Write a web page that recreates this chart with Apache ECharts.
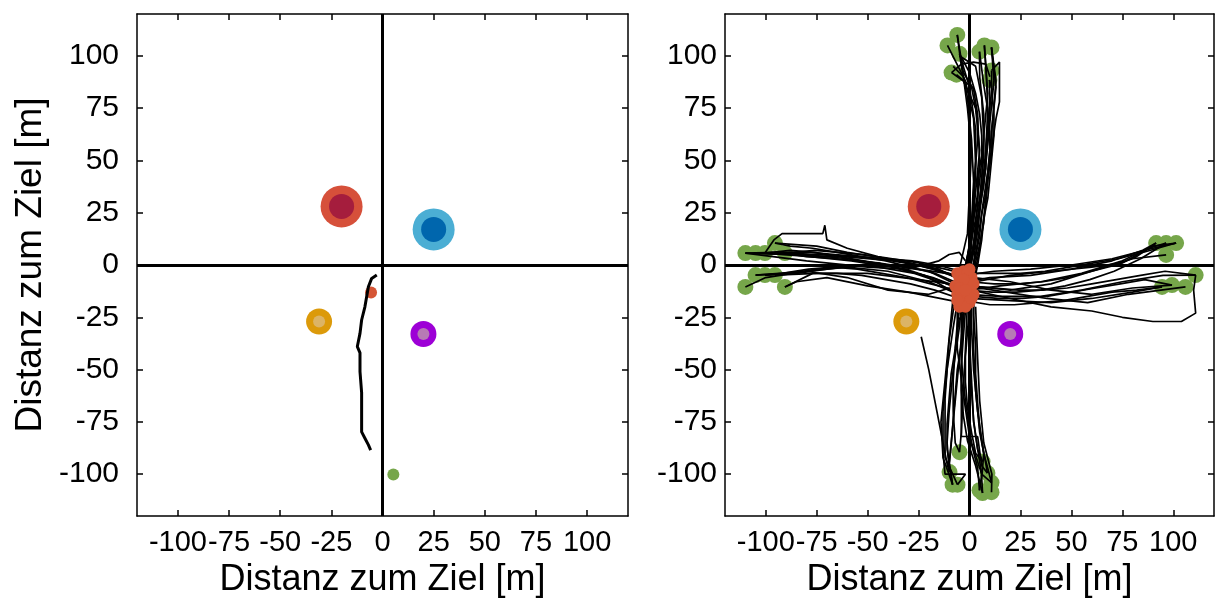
<!DOCTYPE html>
<html><head><meta charset="utf-8">
<script src="https://cdn.jsdelivr.net/npm/echarts@6/dist/echarts.min.js"></script>
<style>html,body{margin:0;padding:0;background:#fff}#c{width:1215px;height:600px}</style>
</head><body><div id="c"></div>
<script>
// ---- data ----
const tickValues = [-100, -75, -50, -25, 0, 25, 50, 75, 100];
const axisTitle = 'Distanz zum Ziel [m]';
const axisRange = [-120, 120];

const targetRed = [[-20, 28]];
const targetBlue = [[25, 17]];
const targetOrange = [[-31, -27]];
const targetPurple = [[20, -33]];

// left panel (single trial)
const leftStart = [[-5.6, -13.2]];
const leftEnd = [[5.3, -100.2]];
const leftTrack = [[-2.8, -4.8], [-5.3, -6.4], [-6.9, -10.4], [-8.6, -20], [-10.2, -26.3], [-11, -32.7],
  [-12.3, -39], [-11, -42], [-11, -51], [-10.2, -61], [-10.2, -79.8], [-8.6, -82.8], [-6.9, -86], [-5.8, -88.5]];

// right panel (all trials)
const startPoints = [[-3, -10], [-5, -6], [-1, -8], [-6, -14], [-2, -15], [-4, -18], [0, -12], [1, -6],
  [-7, -10], [-3, -3], [2, -14], [-5, -20], [0, -18], [-6, -4], [2, -9], [-2, -20],
  [-4, -13], [-1, -4], [-6, -17], [1, -16], [-3, -7], [-5, -11], [0, -2], [-2, -12]];
const endPoints = [
  [-6, 110], [-10.8, 105], [-4.9, 101], [-8.8, 92], [-6.4, 91], [7.3, 105], [10.8, 104], [4.9, 102], [10.8, 93], [9.8, 88.5],
  [-4.9, -89.5], [-9.8, -99], [-8.3, -105], [-5.9, -105], [6.4, -94], [8.8, -99.5], [10.8, -104], [6.4, -109], [10.8, -108.6], [4.9, -107.7],
  [-110, 5.7], [-105, 5.7], [-100.4, 5.7], [-95.5, 10.5], [-90.6, 5.7], [-105, -4.8], [-100.4, -4.8], [-95.5, -4.8], [-110, -10.5], [-90.6, -10.5],
  [91.6, 10.5], [96.5, 10.5], [101.4, 10.5], [96.5, 4.8], [111, -4.8], [99.4, -9.6], [106, -10.5], [94.5, -10.5]];

const upPaths = [
  [[-3, -12], [-1, 0], [1, 20], [2, 40], [1, 60], [-1, 80], [-4, 95], [-6, 110]],
  [[-2, -8], [0, 10], [2, 30], [3, 50], [2, 70], [-2, 88], [-10.8, 105]],
  [[-4, -15], [0, 5], [2, 25], [3, 45], [3, 65], [0, 85], [-4.9, 101]],
  [[-3, -6], [1, 15], [3, 35], [5, 55], [3, 75], [-3, 88], [-8.8, 92]],
  [[-1, -10], [2, 10], [4, 30], [5, 50], [4, 70], [1, 85], [-6.4, 91]],
  [[0, -5], [3, 15], [6, 35], [8, 55], [9, 75], [8, 95], [7.3, 105]],
  [[-2, -14], [3, 5], [6, 25], [9, 45], [11, 65], [13, 85], [10.8, 104]],
  [[-4, -9], [1, 12], [5, 32], [7, 52], [7, 72], [5, 90], [4.9, 102]],
  [[1, -12], [5, 8], [8, 30], [10, 50], [13, 70], [14.7, 78], [14.7, 97], [10.8, 93]],
  [[-1, -3], [4, 18], [7, 40], [9, 60], [10, 75], [9.8, 88.5]],
  [[0, -16], [2, 0], [4, 20], [6, 40], [7, 60], [6, 80], [3, 95], [-5, 100]],
  [[-5, -2], [-1, 15], [0, 35], [1, 55], [-1, 75], [-3, 90], [-8, 95]],
  [[-2, -11], [1, 2], [3, 18], [5, 28], [7, 38], [8, 48], [9, 58], [10, 68], [11, 78], [12, 88], [10.8, 104]],
  [[-1, -6], [2, 6], [4, 16], [5, 26], [6, 36], [8, 46], [8, 56], [9, 66], [10, 76], [11, 84], [9.8, 88.5]],
  [[0, -9], [3, 4], [5, 14], [6, 24], [8, 34], [9, 44], [10, 54], [10, 64], [9, 74], [7, 86], [4.9, 102]],
  [[-3, -4], [0, 8], [2, 22], [4, 32], [4, 42], [6, 52], [6, 62], [5, 72], [3, 82], [0, 92], [-4.9, 101]],
  [[1, -14], [4, 0], [6, 12], [7, 22], [9, 32], [10, 42], [11, 52], [12, 62], [12, 72], [11, 82], [10.8, 93]],
  [[-2, -17], [0, -2], [1, 10], [2, 22], [2, 35], [3, 48], [4, 60], [4, 72], [2, 84], [-3, 92], [-6, 110]],
  [[-4, -11], [-1, 4], [1, 16], [3, 28], [5, 40], [6, 50], [7, 62], [8, 72], [9, 82], [8, 95], [7.3, 105]],
  [[2, -3], [5, 10], [7, 20], [8, 32], [9, 42], [11, 54], [11, 66], [12, 76], [13, 88], [10.8, 104]],
  [[-8.8, 92], [-4, 96], [2, 97], [8, 96], [10, 90]]
];
const downPaths = [
  [[-3, -10], [-5, -30], [-8, -50], [-10, -70], [-11, -85], [-9.8, -99]],
  [[-2, -15], [-4, -35], [-6, -55], [-8, -75], [-10, -95], [-8.3, -105]],
  [[-5, -12], [-8, -30], [-11, -50], [-13, -70], [-13, -90], [-12, -100], [-2, -100], [-5.9, -105]],
  [[-1, -18], [-2, -40], [-3, -60], [-4, -80], [-4.9, -89.5]],
  [[0, -12], [0, -35], [1, -55], [2, -75], [4, -88], [6.4, -94]],
  [[2, -15], [2, -40], [3, -60], [5, -80], [8, -95], [8.8, -99.5]],
  [[-4, -20], [-4, -45], [-2, -65], [1, -85], [6, -100], [10.8, -104]],
  [[1, -8], [1, -30], [2, -50], [4, -70], [7, -90], [6, -102], [6.4, -109]],
  [[-6, -18], [-6, -40], [-3, -62], [0, -82], [4, -97], [4.9, -107.7]],
  [[3, -20], [4, -45], [5, -65], [7, -85], [11, -100], [10.8, -108.6]],
  [[-23.7, -34.3], [-20, -50], [-16, -70], [-13, -85], [-11, -95], [-9.8, -99]],
  [[-8, -15], [-10, -35], [-12, -55], [-14, -75], [-13, -92], [-8.3, -105]],
  [[-3, -15], [-4, -50], [-4, -82], [4, -82], [6, -96], [8.8, -99.5]],
  [[-1, -12], [-3, -25], [-4, -38], [-6, -50], [-7, -62], [-8, -74], [-9, -86], [-10, -96], [-9.8, -99]],
  [[-4, -16], [-6, -28], [-7, -40], [-9, -52], [-10, -64], [-11, -76], [-11, -88], [-8.3, -105]],
  [[0, -20], [-1, -32], [-2, -44], [-2, -56], [-1, -68], [1, -80], [3, -90], [6.4, -94]],
  [[-2, -22], [-3, -34], [-4, -48], [-4, -60], [-3, -72], [-1, -84], [3, -96], [6.4, -109]],
  [[2, -10], [2, -24], [3, -38], [3, -52], [4, -66], [5, -78], [7, -90], [10.8, -104]],
  [[-6, -8], [-8, -22], [-10, -36], [-11, -50], [-12, -64], [-12, -78], [-12, -92], [-5.9, -105]],
  [[-5, -25], [-7, -40], [-8, -55], [-8, -70], [-7, -85], [-4.9, -89.5]],
  [[1, -18], [0, -32], [0, -46], [1, -60], [2, -74], [4, -88], [6, -100], [4.9, -107.7]]
];
const leftPaths = [
  [[-3, -8], [-15, -2], [-35, 2], [-55, 4], [-75, 5], [-95, 6], [-110, 5.7]],
  [[-5, -10], [-20, -3], [-40, 0], [-60, 3], [-80, 5], [-105, 5.7]],
  [[-2, -12], [-18, -6], [-38, -1], [-58, 2], [-78, 4], [-100.4, 5.7]],
  [[-4, -6], [-20, -1], [-40, 3], [-60, 6], [-75, 9], [-95.5, 10.5]],
  [[-6, -14], [-22, -5], [-45, 1], [-65, 3], [-80, 4], [-90.6, 5.7]],
  [[-3, -15], [-20, -8], [-40, -3], [-60, -1], [-80, -3], [-105, -4.8]],
  [[-5, -5], [-25, -2], [-45, 1], [-70, -2], [-85, -4], [-100.4, -4.8]],
  [[-2, -10], [-25, -7], [-50, -4], [-75, -4], [-95.5, -4.8]],
  [[-6, -10], [-20, -14], [-40, -12], [-60, -6], [-80, -3], [-100, -6], [-110, -10.5]],
  [[-4, -18], [-30, -13], [-50, -10], [-70, -6], [-85, -8], [-90.6, -10.5]],
  [[-3, -4], [-25, 1], [-45, 4], [-60, 8], [-70, 12], [-71, 19], [-72, 15], [-92, 15], [-96, 12], [-100.4, 5.7]],
  [[-110, 5.7], [-80, 2], [-50, -1], [-30, -2], [-15, 2], [-10, 5], [-5, 6], [-2, 2]],
  [[-6, -6], [-18, -2], [-30, 1], [-42, 3], [-54, 4], [-66, 5], [-78, 6], [-90, 6], [-105, 5.7]],
  [[-4, -12], [-16, -7], [-28, -3], [-40, 0], [-52, 2], [-64, 4], [-76, 6], [-88, 7], [-100.4, 5.7]],
  [[-5, -9], [-17, -4], [-29, -1], [-41, 2], [-53, 4], [-65, 6], [-77, 8], [-88, 9], [-95.5, 10.5]],
  [[-3, -11], [-15, -8], [-27, -4], [-39, -2], [-51, 0], [-63, -1], [-75, -2], [-88, -4], [-105, -4.8]],
  [[-7, -12], [-19, -9], [-31, -6], [-43, -4], [-55, -2], [-67, -1], [-79, -2], [-92, -4], [-100.4, -4.8]],
  [[-2, -6], [-14, -3], [-26, 0], [-38, 2], [-50, 3], [-62, 4], [-74, 4], [-86, 5], [-110, 5.7]],
  [[-5, -16], [-17, -12], [-29, -9], [-41, -7], [-53, -5], [-65, -4], [-77, -4], [-90.6, -10.5]],
  [[-4, -3], [-16, 0], [-28, 2], [-40, 3], [-52, 5], [-64, 6], [-76, 7], [-90.6, 5.7]]
];
const rightPaths = [
  [[-2, -8], [10, -6], [30, -5], [50, -2], [70, 2], [85, 7], [91.6, 10.5]],
  [[0, -12], [15, -10], [35, -8], [55, -4], [75, 2], [88, 8], [96.5, 10.5]],
  [[-3, -5], [12, -3], [30, -2], [50, 0], [70, 3], [90, 8], [101.4, 10.5]],
  [[1, -10], [20, -12], [40, -9], [60, -3], [80, 3], [96.5, 4.8]],
  [[-1, -14], [15, -15], [35, -15], [55, -12], [75, -8], [95, -5], [111, -4.8]],
  [[2, -6], [20, -8], [40, -12], [60, -14], [80, -11], [99.4, -9.6]],
  [[0, -16], [20, -17], [40, -18], [60, -16], [80, -13], [94.5, -10.5]],
  [[-2, -10], [18, -13], [38, -16], [58, -18], [78, -14], [106, -10.5]],
  [[1, -12], [20, -16], [40, -20], [60, -22], [75, -25], [90, -27], [104, -27], [111, -23], [110, -12], [111, -4.8]],
  [[3, -8], [20, -5], [40, -3], [60, -1], [75, 1], [90, 9], [101.4, 10.5]],
  [[0, -8], [12, -9], [24, -9], [36, -8], [48, -6], [60, -3], [72, 0], [82, 4], [91.6, 10.5]],
  [[-1, -12], [11, -13], [23, -13], [35, -12], [47, -10], [59, -7], [71, -3], [84, 3], [96.5, 10.5]],
  [[2, -15], [14, -16], [26, -16], [38, -15], [50, -13], [62, -11], [74, -9], [86, -7], [99.4, -9.6]],
  [[1, -4], [13, -4], [25, -4], [37, -3], [49, -1], [61, 1], [73, 3], [85, 6], [101.4, 10.5]],
  [[-2, -17], [10, -19], [22, -19], [34, -18], [46, -17], [58, -15], [70, -13], [82, -12], [94.5, -10.5]],
  [[0, -10], [12, -11], [24, -12], [36, -12], [48, -11], [60, -9], [72, -7], [84, -5], [96, -3], [111, -4.8]]
];

// ---- chart ----
const FONT = "'Liberation Sans', Arial, sans-serif";
const chart = echarts.init(document.getElementById('c'), null, {renderer: 'canvas'});

function xAxes(gi) {
  const base = {gridIndex: gi, type: 'value', min: axisRange[0], max: axisRange[1],
    axisLine: {show: true, onZero: false, lineStyle: {color: '#000', width: 1.5}},
    axisTick: {show: true, inside: true, length: 6, customValues: tickValues, lineStyle: {color: '#000', width: 1.5}},
    splitLine: {show: false}};
  return [
    Object.assign({}, base, {position: 'bottom',
      axisLabel: {show: true, customValues: tickValues, hideOverlap: false, color: '#000', fontSize: 29, fontFamily: FONT, margin: 12},
      name: axisTitle, nameLocation: 'middle', nameGap: 42,
      nameTextStyle: {color: '#000', fontSize: 36, fontFamily: FONT}}),
    Object.assign({}, base, {position: 'top', axisLabel: {show: false}})
  ];
}
function yAxes(gi, withName, margin) {
  const base = {gridIndex: gi, type: 'value', min: axisRange[0], max: axisRange[1],
    axisLine: {show: true, onZero: false, lineStyle: {color: '#000', width: 1.5}},
    axisTick: {show: true, inside: true, length: 6, customValues: tickValues, lineStyle: {color: '#000', width: 1.5}},
    splitLine: {show: false}};
  const left = Object.assign({}, base, {position: 'left',
    axisLabel: {show: true, customValues: tickValues, hideOverlap: false, color: '#000', fontSize: 30, fontFamily: FONT, margin: margin}});
  if (withName) Object.assign(left, {name: axisTitle, nameLocation: 'middle', nameGap: 88,
    nameTextStyle: {color: '#000', fontSize: 37, fontFamily: FONT}});
  return [left, Object.assign({}, base, {position: 'right', axisLabel: {show: false}})];
}

function scatter(gi, data, size, color, z) {
  return {type: 'scatter', xAxisIndex: gi * 2, yAxisIndex: gi * 2, data: data, symbol: 'circle',
    symbolSize: size, itemStyle: {color: color, opacity: 1}, z: z, silent: true};
}
function path(gi, data, width) {
  return {type: 'line', xAxisIndex: gi * 2, yAxisIndex: gi * 2, data: data, showSymbol: false, symbol: 'none',
    lineStyle: {color: '#000', width: width}, z: 4, silent: true};
}
function zeroLines(gi) {
  return {type: 'line', xAxisIndex: gi * 2, yAxisIndex: gi * 2, data: [], z: 3,
    markLine: {silent: true, symbol: 'none', animation: false, label: {show: false},
      lineStyle: {color: '#000', width: 3, type: 'solid'},
      data: [{xAxis: 0}, {yAxis: 0}]}};
}
function targets(gi) {
  return [
    scatter(gi, targetRed, 42, '#d6503a', 2), scatter(gi, targetRed, 25, '#a51d3d', 2),
    scatter(gi, targetBlue, 42, '#4baed4', 2), scatter(gi, targetBlue, 25, '#0066ad', 2),
    scatter(gi, targetOrange, 26, '#dc9a0a', 2), scatter(gi, targetOrange, 12, '#dcb466', 2),
    scatter(gi, targetPurple, 26, '#9d00d6', 2), scatter(gi, targetPurple, 12, '#b77ab5', 2)
  ];
}

const TW = 1.7;
const series = [zeroLines(0), zeroLines(1)]
  .concat(targets(0), targets(1))
  .concat([
    scatter(0, leftStart, 12, '#d55535', 3),
    scatter(0, leftEnd, 12, '#76a64a', 3),
    path(0, leftTrack, 3),
    scatter(1, endPoints, 16, '#76a64a', 3)
  ])
  .concat(upPaths.map(p => path(1, p, TW)))
  .concat(downPaths.map(p => path(1, p, TW)))
  .concat(leftPaths.map(p => path(1, p, TW)))
  .concat(rightPaths.map(p => path(1, p, TW)))
  .concat([scatter(1, startPoints, 12, '#d55535', 5)]);

chart.setOption({
  animation: false,
  backgroundColor: '#fff',
  grid: [
    {left: 137, right: 587, top: 14, bottom: 84, containLabel: false, outerBoundsMode: 'none'},
    {left: 725, right: 1, top: 14, bottom: 84, containLabel: false, outerBoundsMode: 'none'}
  ],
  xAxis: xAxes(0).concat(xAxes(1)),
  yAxis: yAxes(0, true, 18).concat(yAxes(1, false, 8)),
  series: series
});
</script></body></html>
